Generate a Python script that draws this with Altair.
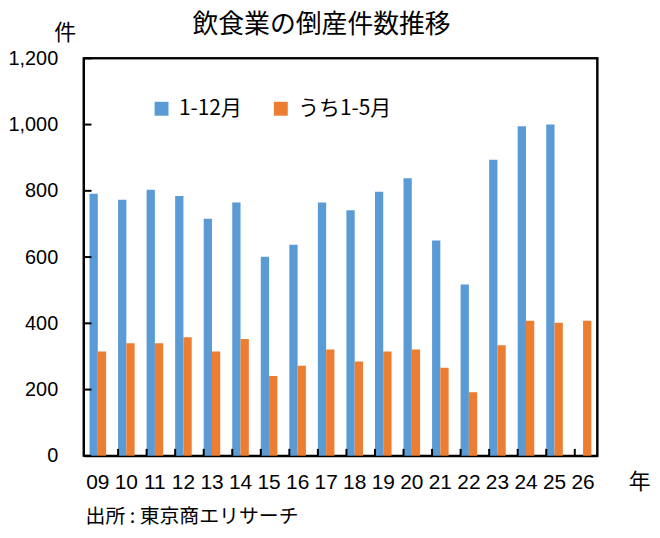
import altair as alt
import pandas as pd

years = ["09", "10", "11", "12", "13", "14", "15", "16", "17", "18",
         "19", "20", "21", "22", "23", "24", "25", "26"]
full_year = [791, 773, 803, 784, 716, 765, 601, 637, 765, 741,
             797, 838, 650, 517, 894, 995, 1000, None]
jan_may = [315, 340, 340, 358, 315, 353, 241, 272, 321, 285,
           315, 321, 266, 192, 334, 408, 402, 408]
series_names = ["1-12月", "うち1-5月"]
y_ticks = [0, 200, 400, 600, 800, 1000, 1200]
title_text = "飲食業の倒産件数推移"
source_text = "出所 : 東京商エリサーチ"

rows = []
for i, yr in enumerate(years):
    if full_year[i] is not None:
        rows.append({"year": yr, "series": series_names[0], "count": full_year[i]})
    rows.append({"year": yr, "series": series_names[1], "count": jan_may[i]})
df = pd.DataFrame(rows)
ticks_df = pd.DataFrame({"v": y_ticks})
years_df = pd.DataFrame({"year": years[1:]})
one = pd.DataFrame({"k": [0]})

W, H = 517, 400
NUM_FONT = "Liberation Sans Narrow, Liberation Sans, Arial"
JP_FONT = "Noto Sans CJK JP"

xscale = alt.Scale(domain=years, paddingInner=0.42, paddingOuter=0.21)
yscale = alt.Scale(domain=[0, 1200])

bars = alt.Chart(df).mark_bar().encode(
    x=alt.X("year:N", scale=xscale, sort=years,
            axis=alt.Axis(title="年", titleFont=JP_FONT, titleFontSize=22,
                          titleFontWeight="normal", titleColor="#000",
                          titleX=W + 42, titleY=26, titleAngle=0,
                          titleAlign="center", titleBaseline="middle",
                          labelFont=NUM_FONT, labelFontSize=21, labelColor="#000",
                          labelAngle=0, labelPadding=16, ticks=False,
                          domainColor="#000", domainWidth=2)),
    xOffset=alt.XOffset("series:N", sort=series_names,
                        scale=alt.Scale(domain=series_names, paddingInner=0, paddingOuter=0)),
    y=alt.Y("count:Q", scale=yscale,
            axis=alt.Axis(values=y_ticks, format=",d", grid=False, ticks=False,
                          labelFont=NUM_FONT, labelFontSize=20, labelColor="#000",
                          labelPadding=26, domainColor="#000", domainWidth=2,
                          title="件", titleFont=JP_FONT, titleFontSize=22,
                          titleFontWeight="normal", titleColor="#000",
                          titleAngle=0, titleX=-19, titleY=-26,
                          titleAlign="center", titleBaseline="middle")),
    color=alt.Color("series:N", sort=series_names,
                    scale=alt.Scale(domain=series_names, range=["#5B9BD5", "#ED7D31"]),
                    legend=alt.Legend(title=None, orient="none", legendX=68, legendY=40,
                                      direction="horizontal", symbolType="square",
                                      symbolSize=196, symbolStrokeWidth=0,
                                      labelFont=JP_FONT, labelFontSize=21,
                                      labelColor="#000", labelOffset=7,
                                      columnPadding=28)),
)

top_edge = alt.Chart(one).mark_rule(color="#000", strokeWidth=2).encode(
    x=alt.value(0), x2=alt.value(W + 1), y=alt.value(0))
right_edge = alt.Chart(one).mark_rule(color="#000", strokeWidth=2).encode(
    x=alt.value(W), y=alt.value(0), y2=alt.value(H + 1))

xticks = alt.Chart(years_df).mark_rule(color="#000", strokeWidth=2).encode(
    x=alt.X("year:N", scale=xscale, sort=years, bandPosition=0),
    y=alt.value(H),
    y2=alt.value(H - 7),
)

yticks = alt.Chart(ticks_df).mark_rule(color="#000", strokeWidth=2).encode(
    y=alt.Y("v:Q", scale=yscale),
    x=alt.value(0),
    x2=alt.value(8),
)

source = alt.Chart(pd.DataFrame({"t": [source_text]})).mark_text(
    font=JP_FONT, fontSize=20, align="left", baseline="middle", color="#000"
).encode(text="t:N", x=alt.value(2), y=alt.value(H + 62))

title = alt.Chart(pd.DataFrame({"t": [title_text]})).mark_text(
    font=JP_FONT, fontSize=26, align="center", baseline="middle", color="#000"
).encode(text="t:N", x=alt.value(W / 2 - 19), y=alt.value(-33))

chart = alt.layer(bars, top_edge, right_edge, xticks, yticks, source, title).properties(
    width=W, height=H,
    autosize=alt.AutoSizeParams(type="none"),
    padding={"left": 76, "top": 49, "right": 55, "bottom": 73},
    background="white",
    view=alt.ViewBackground(stroke="#000", strokeWidth=2),
).configure_view(stroke="#000", strokeWidth=2)

chart.save("out.html", embed_options={"renderer": "svg", "actions": False})
